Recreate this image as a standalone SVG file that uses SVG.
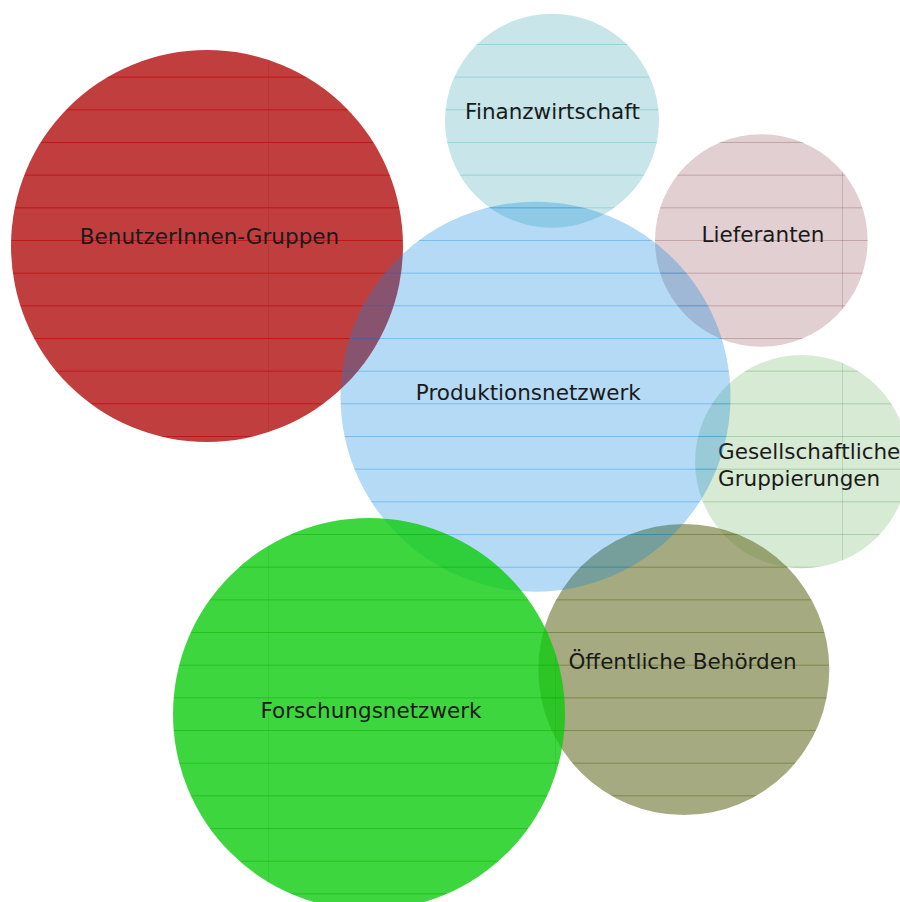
<svg xmlns="http://www.w3.org/2000/svg" width="900" height="902" viewBox="0 0 900 902">
  <defs>
    <!-- striped translucent fills; one stripe every 32.67px -->
    <pattern id="pRed" patternUnits="userSpaceOnUse" x="268" y="11.3" width="287" height="32.67">
      <rect width="287" height="32.67" fill="#b51c1c" fill-opacity="0.85"/>
      <rect y="-0.6" width="287" height="1.3" fill="#c00000" fill-opacity="0.9"/>
      <rect width="1" height="32.67" fill="#7a0000" fill-opacity="0.12"/>
    </pattern>
    <pattern id="pFin" patternUnits="userSpaceOnUse" x="268" y="11.3" width="287" height="32.67">
      <rect width="287" height="32.67" fill="#62b8c0" fill-opacity="0.35"/>
      <rect y="-0.6" width="287" height="1.3" fill="#4fb0b8" fill-opacity="0.55"/>
    </pattern>
    <pattern id="pLief" patternUnits="userSpaceOnUse" x="268" y="11.3" width="287" height="32.67">
      <rect width="287" height="32.67" fill="#9e6269" fill-opacity="0.3"/>
      <rect y="-0.6" width="287" height="1.3" fill="#8e4a52" fill-opacity="0.5"/>
      <rect width="1" height="32.67" fill="#8e4a52" fill-opacity="0.25"/>
    </pattern>
    <pattern id="pGes" patternUnits="userSpaceOnUse" x="268" y="11.3" width="287" height="32.67">
      <rect width="287" height="32.67" fill="#7abc70" fill-opacity="0.3"/>
      <rect y="-0.6" width="287" height="1.3" fill="#4e9e4e" fill-opacity="0.5"/>
      <rect width="1" height="32.67" fill="#4e9e4e" fill-opacity="0.25"/>
    </pattern>
    <pattern id="pOff" patternUnits="userSpaceOnUse" x="268" y="11.3" width="287" height="32.67">
      <rect width="287" height="32.67" fill="#6b712b" fill-opacity="0.6"/>
      <rect y="-0.6" width="287" height="1.3" fill="#4f6a18" fill-opacity="0.75"/>
    </pattern>
    <pattern id="pProd" patternUnits="userSpaceOnUse" x="268" y="11.3" width="287" height="32.67">
      <rect width="287" height="32.67" fill="#0584de" fill-opacity="0.3"/>
      <rect y="-0.6" width="287" height="1.3" fill="#1c8fe4" fill-opacity="0.55"/>
    </pattern>
    <pattern id="pFor" patternUnits="userSpaceOnUse" x="268" y="11.3" width="287" height="32.67">
      <rect width="287" height="32.67" fill="#0ecc0e" fill-opacity="0.8"/>
      <rect y="-0.6" width="287" height="1.3" fill="#0cb80c" fill-opacity="0.9"/>
      <rect width="1" height="32.67" fill="#067a06" fill-opacity="0.12"/>
    </pattern>
  </defs>
  <style>
    text { font-family: "DejaVu Sans", Verdana, sans-serif; font-size: 21.5px; fill: #1a1a1a; }
    .c { text-anchor: middle; }
  </style>

  <g id="benutzerinnen-gruppen">
    <circle cx="207" cy="246" r="196" fill="url(#pRed)"/>
    <text class="c" x="209.5" y="243.5">BenutzerInnen-Gruppen</text>
  </g>
  <g id="finanzwirtschaft">
    <circle cx="552" cy="120.7" r="107" fill="url(#pFin)"/>
    <text class="c" x="552.5" y="119">Finanzwirtschaft</text>
  </g>
  <g id="lieferanten">
    <circle cx="761.3" cy="240.5" r="106.3" fill="url(#pLief)"/>
    <text class="c" x="763" y="242.3">Lieferanten</text>
  </g>
  <g id="gesellschaftliche-gruppierungen">
    <circle cx="801.7" cy="461.7" r="106.7" fill="url(#pGes)"/>
    <text x="718" y="459">Gesellschaftliche</text>
    <text x="718" y="486">Gruppierungen</text>
  </g>
  <g id="oeffentliche-behoerden">
    <circle cx="683.8" cy="669.5" r="145.5" fill="url(#pOff)"/>
    <text class="c" x="682.5" y="669">Öffentliche Behörden</text>
  </g>
  <g id="produktionsnetzwerk">
    <circle cx="535.5" cy="396.7" r="195" fill="url(#pProd)"/>
    <text class="c" x="528.3" y="400">Produktionsnetzwerk</text>
  </g>
  <g id="forschungsnetzwerk">
    <circle cx="369" cy="714" r="196" fill="url(#pFor)"/>
    <text class="c" x="371" y="718.3">Forschungsnetzwerk</text>
  </g>

  <!-- no connectors in this chart -->
  <g id="connectors"/>
</svg>
